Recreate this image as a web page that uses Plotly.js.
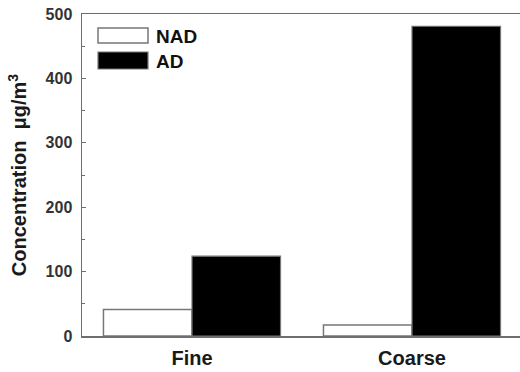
<!DOCTYPE html>
<html>
<head>
<meta charset="utf-8">
<script src="https://cdn.plot.ly/plotly-3.0.1.min.js"></script>
<style>
html,body{margin:0;padding:0;overflow:hidden;width:520px;height:372px;background:#fff;}
#chart{width:524px;height:372px;}
</style>
</head>
<body>
<div id="chart"></div>
<script>
const categories = ["Fine", "Coarse"];
const seriesNames = ["NAD", "AD"];
const nadValues = [41, 17];
const adValues = [124, 481];
const yTickVals = [0, 100, 200, 300, 400, 500];

const font = "Liberation Sans, Arial, sans-serif";
const px = (x) => (x - 82) / 440;
const py = (y) => (336 - y) / 322;

const traces = [
  {type: "bar", name: seriesNames[0], x: categories, y: nadValues,
   marker: {color: "#ffffff", line: {color: "#777777", width: 1.5}}, showlegend: false},
  {type: "bar", name: seriesNames[1], x: categories, y: adValues,
   marker: {color: "#000000", line: {color: "#777777", width: 1.2}}, showlegend: false}
];

const layout = {
  width: 524, height: 372,
  margin: {l: 82, r: 2, t: 14, b: 36},
  paper_bgcolor: "#ffffff", plot_bgcolor: "#ffffff",
  barmode: "group", bargap: 0.195, bargroupgap: 0,
  xaxis: {
    type: "category", range: [-0.5, 1.5],
    showline: true, linecolor: "#6e6e6e", linewidth: 1.5, mirror: true,
    ticks: "", showgrid: false, zeroline: false,
    tickfont: {family: font, size: 20, color: "#1a1a1a", weight: "bold"},
    ticklabelstandoff: 3
  },
  yaxis: {
    range: [0, 500], tickvals: yTickVals, ticktext: yTickVals.map(String),
    showline: true, linecolor: "#6e6e6e", linewidth: 1.5, mirror: false,
    ticks: "inside", ticklen: 4, tickcolor: "#6e6e6e", tickwidth: 1.2,
    minor: {dtick: 50, ticks: "inside", ticklen: 3, tickcolor: "#6e6e6e", tickwidth: 1},
    showgrid: false, zeroline: false,
    tickfont: {family: font, size: 16, color: "#333333", weight: "bold"},
    ticklabelstandoff: 5,
    title: {text: "Concentration  μg/m<sup>3</sup>", standoff: 13,
            font: {family: font, size: 20, color: "#1a1a1a", weight: "bold"}}
  },
  shapes: [
    {type: "rect", xref: "paper", yref: "paper", x0: px(98), x1: px(148), y0: py(43), y1: py(28),
     fillcolor: "#ffffff", line: {color: "#777777", width: 1.5}},
    {type: "rect", xref: "paper", yref: "paper", x0: px(98), x1: px(148), y0: py(69), y1: py(52),
     fillcolor: "#000000", line: {color: "#777777", width: 1.2}}
  ],
  annotations: [
    {xref: "paper", yref: "paper", x: px(154), y: py(36), xanchor: "left", yanchor: "middle",
     text: seriesNames[0], showarrow: false, font: {family: font, size: 19, color: "#111", weight: "bold"}},
    {xref: "paper", yref: "paper", x: px(154), y: py(61), xanchor: "left", yanchor: "middle",
     text: seriesNames[1], showarrow: false, font: {family: font, size: 19, color: "#111", weight: "bold"}}
  ]
};

Plotly.newPlot("chart", traces, layout, {displayModeBar: false, staticPlot: true});
</script>
</body>
</html>
